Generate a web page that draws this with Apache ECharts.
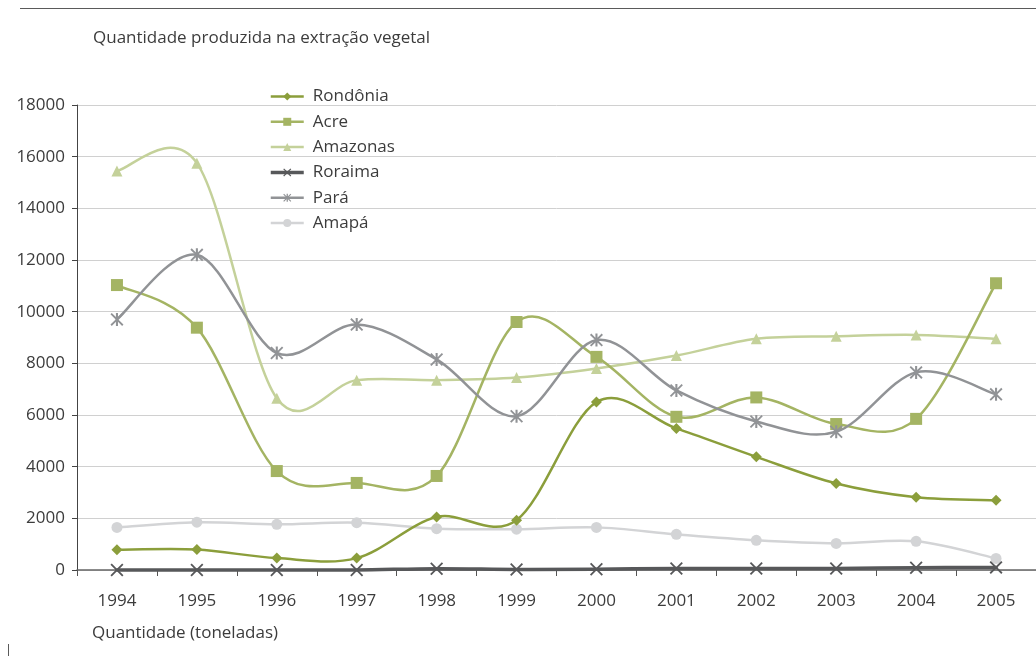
<!DOCTYPE html>
<html>
<head>
<meta charset="utf-8">
<script src="https://cdn.jsdelivr.net/npm/echarts@6/dist/echarts.min.js"></script>
<style>
  html, body { margin: 0; padding: 0; background: #fff; }
  #chart { width: 1036px; height: 656px; }
</style>
</head>
<body>
<div id="chart"></div>
<script>
// Anos
const years = ['1994', '1995', '1996', '1997', '1998', '1999', '2000', '2001', '2002', '2003', '2004', '2005'];

// Quantidade (toneladas) por estado
const rondonia = [780, 790, 460, 460, 2050, 1930, 6500, 5480, 4380, 3350, 2820, 2700];
const acre     = [11030, 9380, 3830, 3370, 3640, 9600, 8250, 5930, 6680, 5650, 5850, 11100];
const amazonas = [15450, 15750, 6650, 7350, 7350, 7450, 7800, 8300, 8950, 9050, 9100, 8950];
const roraima  = [0, 0, 0, 0, 50, 20, 30, 60, 60, 60, 90, 100];
const para     = [9700, 12200, 8400, 9500, 8150, 5950, 8900, 6950, 5750, 5350, 7650, 6800];
const amapa    = [1650, 1850, 1770, 1830, 1600, 1580, 1650, 1380, 1150, 1030, 1110, 450];

const yTicks = { min: 0, max: 18000, interval: 2000 };

// Marcadores em forma de X e de asterisco
const crossPath = 'path://M1,0 L5,4 L9,0 L10,1 L6,5 L10,9 L9,10 L5,6 L1,10 L0,9 L4,5 L0,1 Z';
const starPath = 'path://M1,0 L5,4 L9,0 L10,1 L6,5 L10,9 L9,10 L5,6 L1,10 L0,9 L4,5 L0,1 Z M4.2,0 L5.8,0 L5.8,10 L4.2,10 Z';

const textColor = '#3c3c3c';
const fontFamily = '"Open Sans", Lato, sans-serif';
const fontSize = 17;

// Curva suavizada (Catmull-Rom) através dos pontos, em coordenadas do gráfico
function smoothPath(pts) {
  let d = 'M' + pts[0][0] + ',' + pts[0][1];
  for (let i = 0; i < pts.length - 1; i++) {
    const p0 = pts[Math.max(i - 1, 0)];
    const p1 = pts[i];
    const p2 = pts[i + 1];
    const p3 = pts[Math.min(i + 2, pts.length - 1)];
    const c1x = p1[0] + (p2[0] - p0[0]) / 6;
    const c1y = p1[1] + (p2[1] - p0[1]) / 6;
    const c2x = p2[0] - (p3[0] - p1[0]) / 6;
    const c2y = p2[1] - (p3[1] - p1[1]) / 6;
    d += ' C' + c1x + ',' + c1y + ' ' + c2x + ',' + c2y + ' ' + p2[0] + ',' + p2[1];
  }
  return d;
}

function curveSeries(name, values, color, width, z) {
  return {
    name: name,
    type: 'custom',
    coordinateSystem: 'cartesian2d',
    data: values.map((v, i) => [i, v]),
    z: z,
    silent: true,
    renderItem: function (params, api) {
      if (params.dataIndex !== 0) return null;
      const pts = values.map((v, i) => api.coord([i, v]));
      return {
        type: 'path',
        shape: { pathData: smoothPath(pts) },
        style: { stroke: color, lineWidth: width, fill: null, lineJoin: 'round', lineCap: 'round' }
      };
    }
  };
}

function markerSeries(name, values, color, symbol, size, z) {
  return {
    name: name,
    type: 'line',
    data: values,
    symbol: symbol,
    symbolSize: size,
    showAllSymbol: true,
    z: z,
    lineStyle: { color: color, opacity: 0 },
    itemStyle: { color: color, borderWidth: 0 },
    emphasis: { disabled: true }
  };
}

const states = [
  { name: 'Rondônia', values: rondonia, color: '#8b9e3b', symbol: 'diamond', size: 11, width: 2.5, z: 12 },
  { name: 'Acre',     values: acre,     color: '#a4b463', symbol: 'rect',    size: 12, width: 2.5, z: 8 },
  { name: 'Amazonas', values: amazonas, color: '#c4d19a', symbol: 'triangle', size: 11, width: 2.5, z: 6 },
  { name: 'Roraima',  values: roraima,  color: '#57585a', symbol: crossPath, size: 13, width: 3.5, z: 14 },
  { name: 'Pará',     values: para,     color: '#919396', symbol: starPath,  size: 13, width: 2.5, z: 10 },
  { name: 'Amapá',    values: amapa,    color: '#d3d4d6', symbol: 'circle',  size: 11, width: 2.5, z: 4 }
];

const series = [];
states.forEach(s => {
  series.push(markerSeries(s.name, s.values, s.color, s.symbol, s.size, s.z + 1));
  series.push(curveSeries(s.name, s.values, s.color, s.width, s.z));
});

const chart = echarts.init(document.getElementById('chart'), null, { renderer: 'canvas' });

chart.setOption({
  animation: false,
  backgroundColor: '#ffffff',
  textStyle: { fontFamily: fontFamily, color: textColor },
  title: {
    text: 'Quantidade produzida na extração vegetal',
    left: 88,
    top: 25,
    textStyle: { fontFamily: fontFamily, fontSize: fontSize, fontWeight: 'normal', color: textColor }
  },
  graphic: [
    { type: 'line', shape: { x1: 20, y1: 8.5, x2: 1036, y2: 8.5 }, style: { stroke: '#5a5a5a', lineWidth: 1 } },
    { type: 'line', shape: { x1: 8.5, y1: 644, x2: 8.5, y2: 656 }, style: { stroke: '#5a5a5a', lineWidth: 1 } },
    {
      type: 'text', left: 92, top: 625,
      style: { text: 'Quantidade (toneladas)', fontFamily: fontFamily, fontSize: fontSize, fill: textColor }
    }
  ],
  legend: {
    orient: 'vertical',
    left: 269,
    top: 88,
    padding: 0,
    itemWidth: 33,
    itemHeight: 10,
    itemGap: 8.3,
    textStyle: { fontFamily: fontFamily, fontSize: fontSize, color: textColor, padding: [0, 0, 0, 4] },
    data: states.map(s => ({
      name: s.name,
      lineStyle: { color: s.color, width: s.width, opacity: 1 },
      itemStyle: { color: s.color }
    }))
  },
  grid: { left: 77, right: -1, top: 105, bottom: 86, containLabel: false },
  xAxis: {
    type: 'category',
    data: years,
    boundaryGap: true,
    axisLine: { show: true, lineStyle: { color: '#666666', width: 1.5 } },
    axisTick: { show: true, length: 6, inside: false, alignWithLabel: false, lineStyle: { color: '#555555' } },
    axisLabel: { color: textColor, fontSize: fontSize, fontFamily: fontFamily, margin: 23 },
    splitLine: { show: false }
  },
  yAxis: {
    type: 'value',
    min: yTicks.min,
    max: yTicks.max,
    interval: yTicks.interval,
    axisLine: { show: true, lineStyle: { color: '#444444', width: 1 } },
    axisTick: { show: true, length: 5, lineStyle: { color: '#444444' } },
    axisLabel: { color: textColor, fontSize: fontSize, fontFamily: fontFamily, margin: 12, formatter: v => String(v) },
    splitLine: { show: true, lineStyle: { color: '#d0d0d0', width: 1 } }
  },
  series: series
});
</script>
</body>
</html>
